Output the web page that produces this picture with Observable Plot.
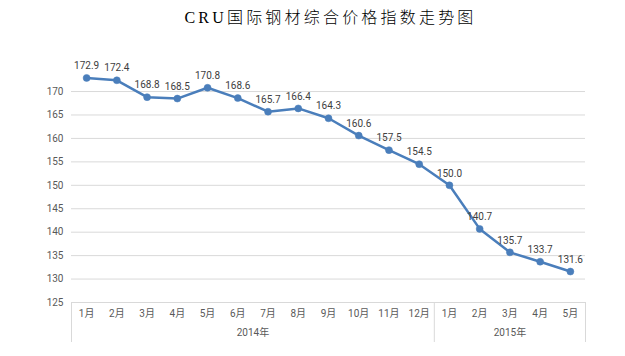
<!DOCTYPE html>
<html>
<head>
<meta charset="utf-8">
<script src="https://cdn.jsdelivr.net/npm/d3@7"></script>
<script src="https://cdn.jsdelivr.net/npm/@observablehq/plot@0.6"></script>
<style>
  html, body { margin: 0; padding: 0; background: #fff; }
  #chart svg { display: block; }
</style>
</head>
<body>
<div id="chart"></div>
<script>
const title = "CRU国际钢材综合价格指数走势图";
const months = ["1月","2月","3月","4月","5月","6月","7月","8月","9月","10月","11月","12月","1月","2月","3月","4月","5月"];
const years = ["2014年","2014年","2014年","2014年","2014年","2014年","2014年","2014年","2014年","2014年","2014年","2014年","2015年","2015年","2015年","2015年","2015年"];
const values = [172.9,172.4,168.8,168.5,170.8,168.6,165.7,166.4,164.3,160.6,157.5,154.5,150.0,140.7,135.7,133.7,131.6];
const yTicks = [125,130,135,140,145,150,155,160,165,170];

const data = values.map((v, i) => ({i, month: months[i], year: years[i], value: v}));
const groups = d3.groups(data, d => d.year).map(([year, rows]) => ({
  year,
  start: rows[0].i - 0.5,
  end: rows[rows.length - 1].i + 0.5,
  mid: (rows[0].i + rows[rows.length - 1].i) / 2
}));
const bounds = [groups[0].start, ...groups.map(g => g.end)];

const W = 625, H = 356, mT = 67.6, mB = 54, mL = 71, mR = 40;
const plotH = H - mT - mB;
const font = "Roboto, 'Noto Sans CJK SC', sans-serif";
const blue = "#4a7ebb";
const grid = "#d9d9d9";

const chart = Plot.plot({
  width: W, height: H,
  marginTop: mT, marginBottom: mB, marginLeft: mL, marginRight: mR,
  style: {fontFamily: font, fontSize: "10px", color: "#595959", background: "#fff"},
  x: {type: "linear", domain: [bounds[0], bounds[bounds.length - 1]]},
  y: {domain: [125, 175]},
  marks: [
    Plot.gridY(yTicks, {stroke: grid, strokeOpacity: 1, strokeWidth: 1}),
    Plot.ruleX(bounds, {stroke: grid, strokeWidth: 1, insetTop: plotH, insetBottom: -40}),
    Plot.axisY(yTicks, {tickSize: 0, tickPadding: 8, label: null, fill: "#595959", fontSize: 10}),
    Plot.axisX(d3.range(months.length), {tickSize: 0, tickPadding: 7, label: null, tickFormat: i => months[i], fill: "#595959", fontSize: 10}),
    Plot.text(groups, {x: "mid", text: "year", frameAnchor: "bottom", dy: 33, fill: "#595959", fontSize: 10}),
    Plot.line(data, {x: "i", y: "value", stroke: blue, strokeWidth: 2.5}),
    Plot.dot(data, {x: "i", y: "value", r: 3.5, fill: blue, stroke: blue, strokeWidth: 0.5}),
    Plot.text(data, {x: "i", y: "value", text: d => d.value.toFixed(1), dy: -12, fill: "#404040", fontSize: 10}),
    Plot.text([title], {frameAnchor: "top", lineAnchor: "middle", dy: -50, dx: 2, text: d => d, fontSize: 16, fill: "#000", fontFamily: "'Liberation Serif', 'Noto Sans CJK SC', serif", fontWeight: 300})
  ]
});
d3.select(chart).selectAll("text").filter(function() { return this.textContent === title; })
  .attr("letter-spacing", "3.2px");
document.getElementById("chart").appendChild(chart);
</script>
</body>
</html>
